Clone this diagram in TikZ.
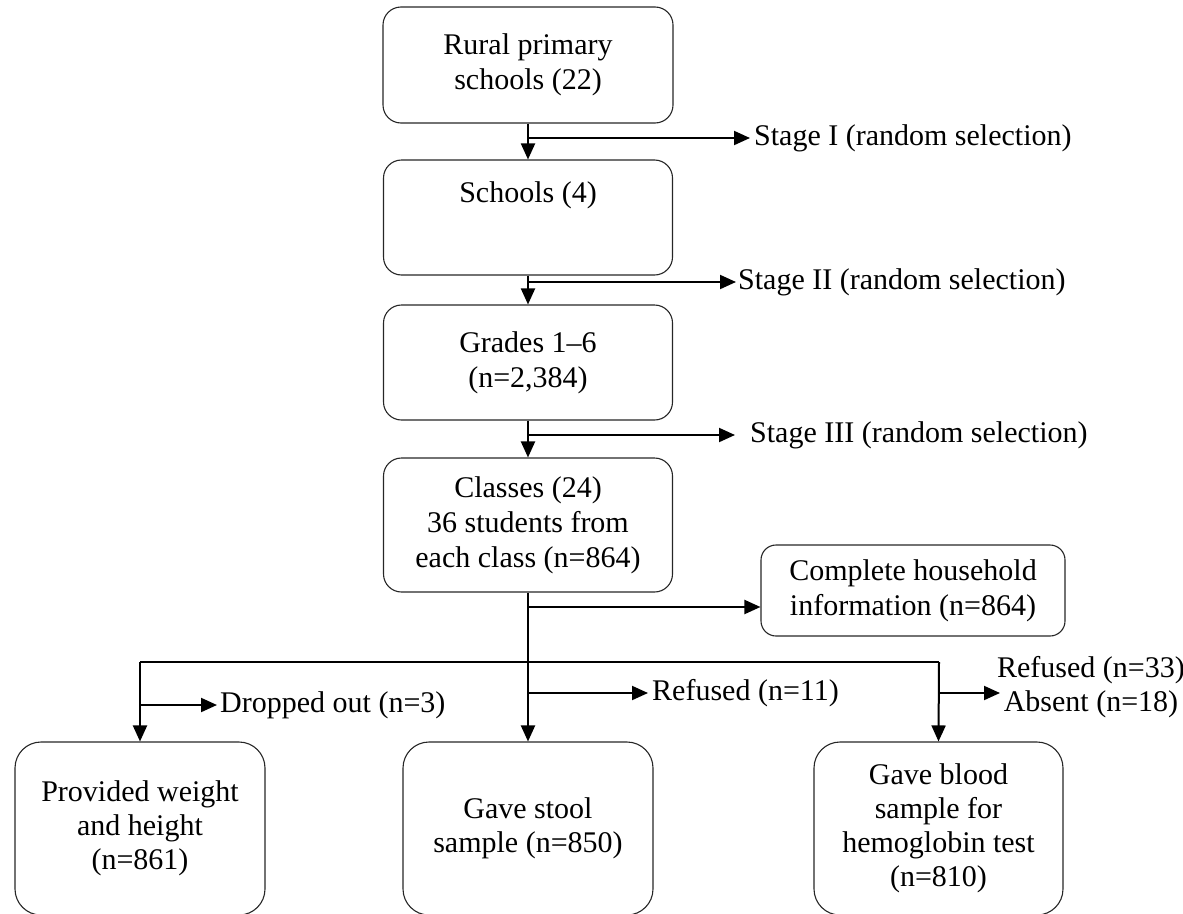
\documentclass[tikz,border=0pt]{standalone}
\usepackage{fontspec}
\setmainfont{Liberation Serif}
\usetikzlibrary{arrows.meta,positioning,calc}
\tikzset{
  box/.style={draw=black!85, line width=1.1pt, rounded corners=18pt, align=center,
    inner sep=0pt, font=\fontsize{30}{35}\selectfont},
  bigbox/.style={box, rounded corners=26pt, font=\fontsize{30}{34}\selectfont},
  lab/.style={inner sep=0pt, anchor=west, align=center, font=\fontsize{30}{34}\selectfont},
  conn/.style={line width=2pt, black},
  arr/.style={conn, -{Triangle[length=16pt,width=14pt]}}
}
\begin{document}
\begin{tikzpicture}[x=1pt,y=-1pt]
\useasboundingbox (0,0) rectangle (1183,913);
\clip (0,0) rectangle (1183,913);
% boxes
\node[box, minimum width=290pt, minimum height=116pt] (b1) at (528,65) {Rural primary\\schools (22)};
\node[box, minimum width=289pt, minimum height=115pt] (b2) at (528,217.5) {\strut Schools (4)\\[10pt]\strut};
\node[box, minimum width=289pt, minimum height=115pt] (b3) at (528,362.5) {Grades 1--6\\(n=2,384)};
\node[box, minimum width=289pt, minimum height=134pt] (b4) at (528,525) {Classes (24)\\36 students from\\each class (n=864)};
\node[box, rounded corners=15pt, minimum width=304pt, minimum height=91pt] (b5) at (913,590.5) {Complete household\\information (n=864)};
\node[bigbox, minimum width=250pt, minimum height=173pt] (b6) at (140,828.5) {Provided weight\\and height\\(n=861)};
\node[bigbox, minimum width=250pt, minimum height=173pt] (b7) at (528,828.5) {Gave stool\\sample (n=850)};
\node[bigbox, minimum width=249pt, minimum height=173pt] (b8) at (938.5,828.5) {Gave blood\\sample for\\hemoglobin test\\(n=810)};
% side labels
\node[lab] (s1) at (754,138) {Stage I (random selection)};
\node[lab] (s2) at (738,282) {Stage II (random selection)};
\node[lab] (s3) at (750,435) {Stage III (random selection)};
\node[lab] (l6) at (220,705) {Dropped out (n=3)};
\node[lab] (l7) at (652,693) {Refused (n=11)};
\node[lab, anchor=center] (l8) at (1091,687) {Refused (n=33)\\Absent (n=18)};
% junction coordinates
\coordinate (j1) at (528,138);
\coordinate (j2) at (528,282);
\coordinate (j3) at (528,435);
\coordinate (j4) at (528,607);
\coordinate (jm) at (528,662);
\coordinate (jl) at (140,662);
\coordinate (jr) at (939,662);
\coordinate (k6) at (140,705);
\coordinate (k7) at (528,693);
\coordinate (k8) at (939,693);
% main flow
\draw[arr] (b1.south) -- (b2.north);
\draw[arr] (b2.south) -- (b3.north);
\draw[arr] (b3.south) -- (b4.north);
\draw[conn] (b4.south) -- (jm);
\draw[arr] (j1) -- ([xshift=-4pt]s1.west);
\draw[arr] (j2) -- ([xshift=-2pt]s2.west);
\draw[arr] (j3) -- ([xshift=-15pt]s3.west);
\draw[arr] (j4) -- (b5.west |- j4);
% bottom distribution
\draw[conn] (jl) -- (jr);
\draw[arr] (jl) -- (b6.north);
\draw[arr] (jm) -- (b7.north);
\draw[arr] (jr) -- (b8.north);
\draw[arr] (k6) -- ([xshift=-3pt]l6.west);
\draw[arr] (k7) -- ([xshift=-4pt]l7.west);
\draw[arr] (k8) -- (1000,693);
\end{tikzpicture}
\end{document}
